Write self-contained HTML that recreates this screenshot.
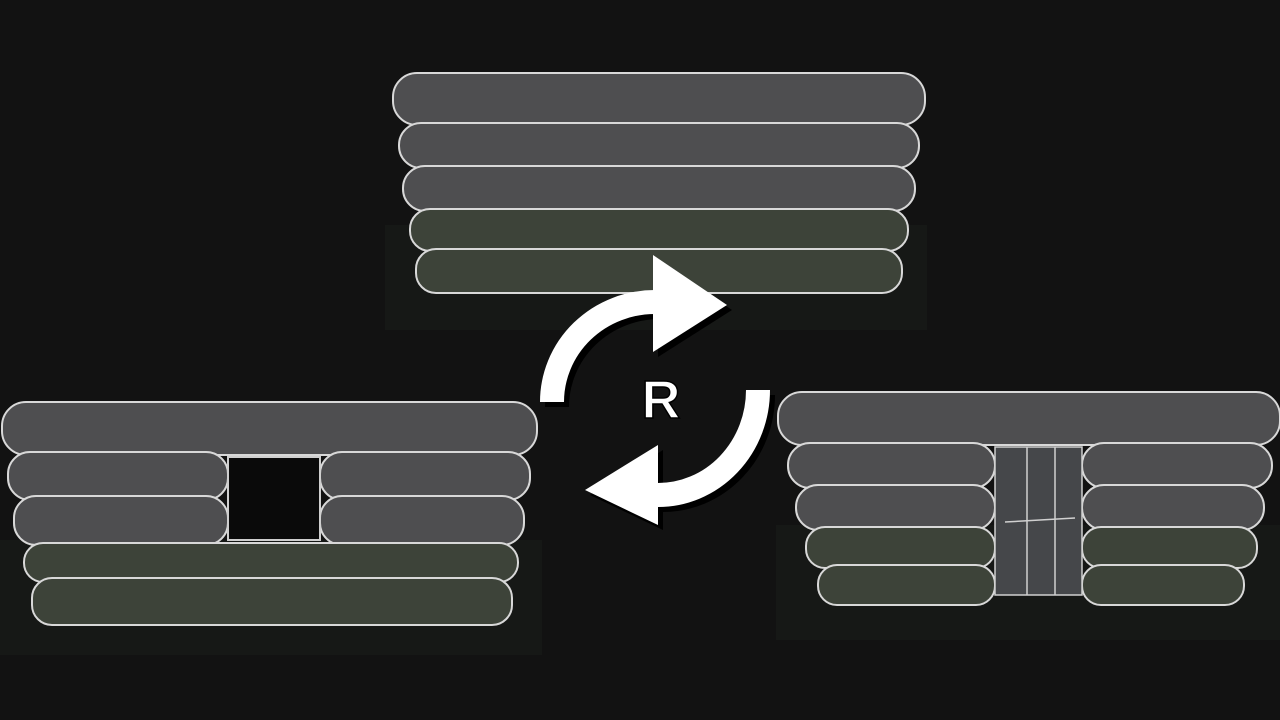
<!DOCTYPE html>
<html><head><meta charset="utf-8"><style>
html,body{margin:0;padding:0;background:#121212;width:1280px;height:720px;overflow:hidden}
svg{display:block}
</style></head><body>
<svg width="1280" height="720" viewBox="0 0 1280 720" xmlns="http://www.w3.org/2000/svg">
<rect width="1280" height="720" fill="#121212"/>
<rect x="385" y="225" width="542" height="105" fill="#161816"/>
<rect x="0" y="540" width="542" height="115" fill="#161816"/>
<rect x="776" y="525" width="504" height="115" fill="#161816"/>
<g stroke="#d8d8d8" stroke-width="2">
<g fill="#4e4e50">
<rect x="393" y="73" width="532" height="52" rx="24"/>
<rect x="399" y="123" width="520" height="45" rx="22"/>
<rect x="403" y="166" width="512" height="45" rx="22"/>
<rect x="2" y="402" width="535" height="53" rx="24"/>
<rect x="8" y="452" width="220" height="48" rx="22"/>
<rect x="320" y="452" width="210" height="48" rx="22"/>
<rect x="14" y="496" width="214" height="49" rx="22"/>
<rect x="320" y="496" width="204" height="49" rx="22"/>
<rect x="778" y="392" width="502" height="53" rx="24"/>
<rect x="788" y="443" width="207" height="45" rx="22"/>
<rect x="1082" y="443" width="190" height="45" rx="22"/>
<rect x="796" y="485" width="199" height="45" rx="22"/>
<rect x="1082" y="485" width="182" height="45" rx="22"/>
</g>
<g fill="#3d4339">
<rect x="410" y="209" width="498" height="42" rx="20"/>
<rect x="416" y="249" width="486" height="44" rx="20"/>
<rect x="24" y="543" width="494" height="39" rx="19"/>
<rect x="32" y="578" width="480" height="47" rx="20"/>
<rect x="806" y="527" width="189" height="41" rx="19"/>
<rect x="1082" y="527" width="175" height="41" rx="19"/>
<rect x="818" y="565" width="177" height="40" rx="19"/>
<rect x="1082" y="565" width="162" height="40" rx="19"/>
</g>
</g>
<rect x="228" y="457" width="92" height="83" fill="#0a0a0a" stroke="#cfcfcf" stroke-width="2"/>
<g fill="#45474a" stroke="#d0d0d0" stroke-width="1.5">
<rect x="995" y="447" width="87" height="148"/>
<line x1="1027" y1="447" x2="1027" y2="595"/>
<line x1="1055" y1="447" x2="1055" y2="595"/>
<line x1="1005" y1="522" x2="1075" y2="518"/>
</g>
<g transform="translate(5,5)" fill="#000">
<path d="M552 402 A103 100 0 0 1 655 302" fill="none" stroke="#000" stroke-width="24"/>
<polygon points="653,255 727,305 653,352"/>
<path d="M758 390 A100 105 0 0 1 658 495" fill="none" stroke="#000" stroke-width="24"/>
<polygon points="658,445 585,490 658,525"/>
</g>
<g fill="#fff">
<path d="M552 402 A103 100 0 0 1 655 302" fill="none" stroke="#fff" stroke-width="24"/>
<polygon points="653,255 727,305 653,352"/>
<path d="M758 390 A100 105 0 0 1 658 495" fill="none" stroke="#fff" stroke-width="24"/>
<polygon points="658,445 585,490 658,525"/>
</g>
<text x="661" y="418" text-anchor="middle" font-family="'Liberation Sans', sans-serif" font-weight="900" font-size="54" fill="#fff" stroke="#000" stroke-width="1.5">R</text>
</svg>
</body></html>
